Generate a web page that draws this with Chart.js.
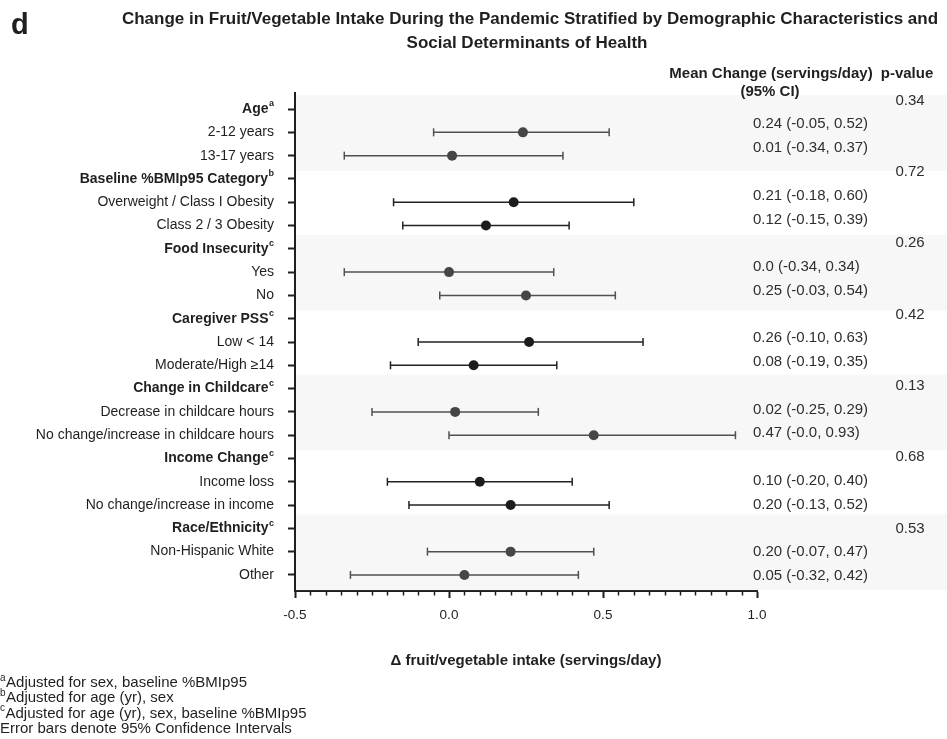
<!DOCTYPE html>
<html>
<head>
<meta charset="utf-8">
<script src="https://cdn.jsdelivr.net/npm/chart.js@4/dist/chart.umd.min.js"></script>
<style>
  html, body { margin: 0; padding: 0; background: #ffffff; }
  #wrap { position: relative; width: 947px; height: 739px; }
</style>
</head>
<body>
<div id="wrap"><canvas id="forest" width="947" height="739"></canvas></div>
<script>
// ---- data ---------------------------------------------------------------
const groupNames = ['Age', 'Baseline %BMIp95 Category', 'Food Insecurity', 'Caregiver PSS',
                    'Change in Childcare', 'Income Change', 'Race/Ethnicity'];
const groupNotes = ['a', 'b', 'c', 'c', 'c', 'c', 'c'];
const subgroupNames = ['2-12 years', '13-17 years',
                       'Overweight / Class I Obesity', 'Class 2 / 3 Obesity',
                       'Yes', 'No',
                       'Low < 14', 'Moderate/High \u226514',
                       'Decrease in childcare hours', 'No change/increase in childcare hours',
                       'Income loss', 'No change/increase in income',
                       'Non-Hispanic White', 'Other'];
const meanChange = [0.24, 0.01, 0.21, 0.12, 0.0, 0.25, 0.26, 0.08, 0.02, 0.47, 0.10, 0.20, 0.20, 0.05];
const ciLower    = [-0.05, -0.34, -0.18, -0.15, -0.34, -0.03, -0.10, -0.19, -0.25, -0.0, -0.20, -0.13, -0.07, -0.32];
const ciUpper    = [0.52, 0.37, 0.60, 0.39, 0.34, 0.54, 0.63, 0.35, 0.29, 0.93, 0.40, 0.52, 0.47, 0.42];
const meanText   = ['0.24 (-0.05, 0.52)', '0.01 (-0.34, 0.37)', '0.21 (-0.18, 0.60)', '0.12 (-0.15, 0.39)',
                    '0.0 (-0.34, 0.34)', '0.25 (-0.03, 0.54)', '0.26 (-0.10, 0.63)', '0.08 (-0.19, 0.35)',
                    '0.02 (-0.25, 0.29)', '0.47 (-0.0, 0.93)', '0.10 (-0.20, 0.40)', '0.20 (-0.13, 0.52)',
                    '0.20 (-0.07, 0.47)', '0.05 (-0.32, 0.42)'];
const pValues    = ['0.34', '0.72', '0.26', '0.42', '0.13', '0.68', '0.53'];
const xTickValues = [-0.5, 0.0, 0.5, 1.0];
const xMinorStep = 0.05;
const footnotes = [['a', 'Adjusted for sex, baseline %BMIp95'],
                   ['b', 'Adjusted for age (yr), sex'],
                   ['c', 'Adjusted for age (yr), sex, baseline %BMIp95'],
                   ['', 'Error bars denote 95% Confidence Intervals']];

// ---- row layout: each group takes a header row plus two subgroup rows ----
const ROWS_PER_GROUP = 3;
const groupRow = g => g * ROWS_PER_GROUP;
const subRow = i => Math.floor(i / 2) * ROWS_PER_GROUP + 1 + (i % 2);
const shaded = g => g % 2 === 0;

const FONT = '"Liberation Sans", Arial, Helvetica, sans-serif';
const INK = '#1f1f1f';
const colorFor = g => shaded(g)
  ? { point: '#464646', line: '#505050' }
  : { point: '#1c1c1c', line: '#222222' };

// ---- datasets -----------------------------------------------------------
const datasets = [];
subgroupNames.forEach((name, i) => {
  const g = Math.floor(i / 2);
  const c = colorFor(g);
  datasets.push({
    label: name + ' 95% CI',
    data: [{ x: ciLower[i], y: subRow(i) }, { x: ciUpper[i], y: subRow(i) }],
    showLine: true,
    borderColor: c.line,
    borderWidth: 1.5,
    pointStyle: 'line',
    rotation: 90,
    pointRadius: 4,
    pointHoverRadius: 4,
    pointBorderColor: c.line,
    pointBorderWidth: 1.5,
    order: 2
  });
});
datasets.push({
  label: 'Mean change',
  data: meanChange.map((m, i) => ({ x: m, y: subRow(i) })),
  showLine: false,
  pointStyle: 'circle',
  pointRadius: 5,
  pointHoverRadius: 5,
  pointBorderWidth: 0,
  pointBackgroundColor: meanChange.map((m, i) => colorFor(Math.floor(i / 2)).point),
  order: 1
});

// ---- plugins ------------------------------------------------------------
const bandPlugin = {
  id: 'groupBands',
  beforeDatasetsDraw(chart) {
    const { ctx, chartArea, scales: { y } } = chart;
    ctx.save();
    ctx.fillStyle = '#f7f7f7';
    groupNames.forEach((n, g) => {
      if (!shaded(g)) return;
      const top = y.getPixelForValue(groupRow(g) - 0.6);
      const bottom = y.getPixelForValue(groupRow(g) + 2.65);
      ctx.fillRect(chartArea.left + 1, top, chart.width - chartArea.left - 1, bottom - top);
    });
    ctx.restore();
  }
};

const minorTickPlugin = {
  id: 'minorTicks',
  afterDraw(chart) {
    const { ctx, chartArea, scales: { x } } = chart;
    ctx.save();
    ctx.strokeStyle = INK;
    ctx.lineWidth = 1.5;
    const n = Math.round((x.max - x.min) / xMinorStep);
    for (let k = 1; k < n; k++) {
      const v = x.min + k * xMinorStep;
      if (xTickValues.some(t => Math.abs(t - v) < 1e-9)) continue;
      const px = Math.round(x.getPixelForValue(v)) + 0.5;
      ctx.beginPath();
      ctx.moveTo(px, chartArea.bottom);
      ctx.lineTo(px, chartArea.bottom + 4.5);
      ctx.stroke();
    }
    ctx.restore();
  }
};

function textWithSup(ctx, text, sup, xRight, y, size, bold) {
  // right-aligned label followed by a raised note letter
  const weight = bold ? 'bold ' : '';
  ctx.font = weight + size + 'px ' + FONT;
  const mainW = ctx.measureText(text).width;
  ctx.font = weight + Math.round(size * 0.66) + 'px ' + FONT;
  const supW = sup ? ctx.measureText(sup).width + 0.5 : 0;
  ctx.textAlign = 'left';
  ctx.font = weight + size + 'px ' + FONT;
  ctx.fillText(text, xRight - supW - mainW, y);
  if (sup) {
    ctx.font = weight + Math.round(size * 0.66) + 'px ' + FONT;
    ctx.fillText(sup, xRight - supW + 0.5, y - size * 0.38);
  }
}

const textPlugin = {
  id: 'forestText',
  afterDraw(chart) {
    const { ctx, chartArea, scales: { x, y } } = chart;
    ctx.save();
    ctx.fillStyle = INK;
    ctx.textBaseline = 'middle';

    // panel letter and title
    ctx.textAlign = 'left';
    ctx.font = 'bold 29px ' + FONT;
    ctx.fillText('d', 11, 26);
    ctx.textAlign = 'center';
    ctx.font = 'bold 17px ' + FONT;
    ctx.fillText('Change in Fruit/Vegetable Intake During the Pandemic Stratified by Demographic Characteristics and', 530, 19);
    ctx.fillText('Social Determinants of Health', 527, 43);

    // column headers
    ctx.font = 'bold 15px ' + FONT;
    ctx.fillText('Mean Change (servings/day)', 771, 74);
    ctx.fillText('(95% CI)', 770, 92);
    ctx.fillText('p-value', 907, 74);

    // row labels
    const labelRight = chartArea.left - 21;
    groupNames.forEach((n, g) => {
      textWithSup(ctx, n, groupNotes[g], labelRight, y.getPixelForValue(groupRow(g)), 14, true);
    });
    subgroupNames.forEach((n, i) => {
      textWithSup(ctx, n, '', labelRight, y.getPixelForValue(subRow(i)), 14, false);
    });

    // estimate and p-value columns (set on a slightly looser row pitch)
    const colY = row => y.getPixelForValue(row * 1.0205 - 0.365);
    ctx.fillStyle = '#2e2e2e';
    ctx.font = '15px ' + FONT;
    ctx.textAlign = 'left';
    meanText.forEach((t, i) => ctx.fillText(t, 753, colY(subRow(i))));
    ctx.textAlign = 'center';
    pValues.forEach((p, g) => ctx.fillText(p, 910, colY(groupRow(g))));

    // x-axis title
    ctx.fillStyle = INK;
    ctx.font = 'bold 15px ' + FONT;
    ctx.fillText('\u0394 fruit/vegetable intake (servings/day)', (x.left + x.right) / 2, 661);

    // footnotes
    footnotes.forEach(([sup, t], k) => {
      const yy = 683 + k * 15.3;
      ctx.textAlign = 'left';
      let xx = 0;
      if (sup) {
        ctx.font = '10px ' + FONT;
        ctx.fillText(sup, 0, yy - 5);
        xx = ctx.measureText(sup).width + 0.5;
      }
      ctx.font = '15px ' + FONT;
      ctx.fillText(t, xx, yy);
    });
    ctx.restore();
  }
};

// ---- chart --------------------------------------------------------------
new Chart(document.getElementById('forest'), {
  type: 'scatter',
  data: { datasets },
  options: {
    responsive: false,
    animation: false,
    events: [],
    layout: { padding: { top: 93, right: 190, left: 0, bottom: 0 } },
    plugins: { legend: { display: false }, tooltip: { enabled: false }, title: { display: false } },
    scales: {
      x: {
        type: 'linear',
        min: -0.5,
        max: 1.0,
        afterBuildTicks: s => { s.ticks = xTickValues.map(v => ({ value: v })); },
        afterFit: s => { s.height = 148; },
        ticks: {
          callback: v => Number(v).toFixed(1),
          color: INK,
          font: { family: FONT, size: 13.5 },
          padding: 9,
          maxRotation: 0
        },
        grid: { drawOnChartArea: false, drawTicks: true, tickLength: 7, tickWidth: 2, tickColor: INK },
        border: { display: true, color: INK, width: 2 }
      },
      y: {
        type: 'linear',
        reverse: true,
        min: -0.69,
        max: 20.69,
        afterBuildTicks: s => {
          const vals = [];
          groupNames.forEach((n, g) => vals.push(groupRow(g)));
          subgroupNames.forEach((n, i) => vals.push(subRow(i)));
          s.ticks = vals.sort((a, b) => a - b).map(v => ({ value: v }));
        },
        afterFit: s => { s.width = 295; },
        ticks: { display: false },
        grid: { drawOnChartArea: false, drawTicks: true, tickLength: 7, tickWidth: 2, tickColor: INK },
        border: { display: true, color: INK, width: 2 }
      }
    }
  },
  plugins: [bandPlugin, minorTickPlugin, textPlugin]
});
</script>
</body>
</html>
